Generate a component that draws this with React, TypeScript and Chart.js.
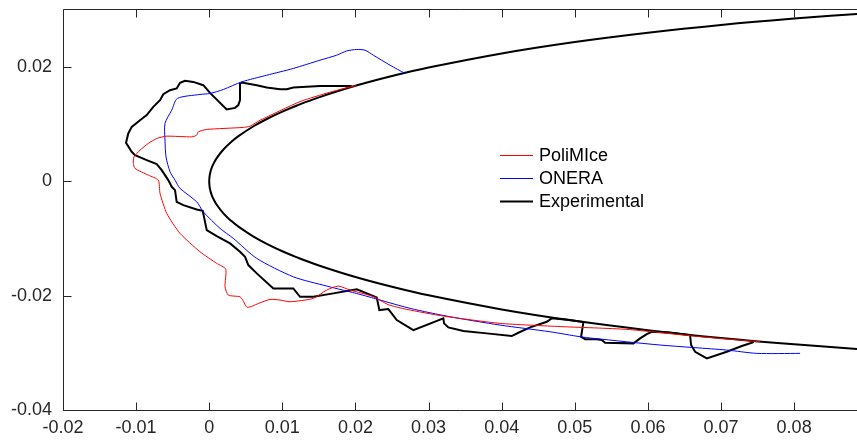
import React, { useEffect, useRef } from "react";
import { Chart, registerables } from "chart.js";

Chart.register(...registerables);

// Axis ticks
const xTicks = [-0.02, -0.01, 0, 0.01, 0.02, 0.03, 0.04, 0.05, 0.06, 0.07, 0.08];
const yTicks = [-0.04, -0.02, 0, 0.02];

// NACA 0012 section (chord 0.5334 m) near the leading edge: stations and half thickness
const airfoilStations = [
  0, 0.00005, 0.0001, 0.0002, 0.0003, 0.0005, 0.001, 0.002, 0.003, 0.004, 0.006, 0.008,
  0.01, 0.012, 0.015, 0.02, 0.025, 0.03, 0.04, 0.05, 0.06, 0.07, 0.08, 0.09,
];
const airfoilHalfThickness = [
  0, 0.00092, 0.00129, 0.00183, 0.00223, 0.00287, 0.00404, 0.00567, 0.0069, 0.00792, 0.00961,
  0.01101, 0.01222, 0.01329, 0.01471, 0.01673, 0.01844, 0.01993, 0.0224, 0.0244, 0.02603,
  0.02739, 0.02851, 0.02944,
];

// Ice shapes, traced from upper surface around the leading edge to the lower surface
const poliMIceX = [
  0.0201, 0.01653, 0.01242, 0.00695, 0.00558, 0.00466, -0.00034, -0.00149, -0.00171, -0.00239,
  -0.00581, -0.00718, -0.00833, -0.00947, -0.01029, -0.01038, -0.01015, -0.00833, -0.00696,
  -0.00673, -0.00581, -0.00399, -0.00126, 0.00103, 0.00226, 0.00216, 0.00261, 0.00421, 0.00458,
  0.00521, 0.00695, 0.00832, 0.00969, 0.01105, 0.01424, 0.01607, 0.01766, 0.01926, 0.02245,
  0.02446, 0.02702, 0.03202, 0.03978, 0.04799, 0.05711, 0.06622, 0.07535,
];
const poliMIceY = [
  0.0168, 0.01562, 0.01396, 0.0107, 0.00967, 0.00945, 0.0091, 0.00868, 0.0081, 0.0078, 0.00792,
  0.00752, 0.00665, 0.00547, 0.0043, 0.00315, 0.00227, 0.0011, 0.00023, -0.0021, -0.0056,
  -0.0091, -0.01231, -0.01434, -0.01534, -0.01844, -0.01989, -0.02019, -0.02076, -0.02204,
  -0.02124, -0.02064, -0.02076, -0.02106, -0.02047, -0.01901, -0.01831, -0.01901, -0.02015,
  -0.02155, -0.02239, -0.02356, -0.02484, -0.0254, -0.02589, -0.02706, -0.02806,
];

const oneraX = [
  0.0268, 0.02473, 0.02245, 0.02131, 0.02018, 0.01881, 0.01744, 0.01516, 0.0115, 0.00787,
  0.00445, 0.00193, 0.00011, -0.00126, -0.00436, -0.00513, -0.00605, -0.00605, -0.00591,
  -0.00536, -0.00468, -0.00399, -0.00171, -0.00081, 0.00148, 0.0033, 0.0065, 0.0115, 0.01607,
  0.02063, 0.02747, 0.03294, 0.03978, 0.04662, 0.05073, 0.05254, 0.06167, 0.07079, 0.0749,
  0.08082,
];
const oneraY = [
  0.0189, 0.02034, 0.02209, 0.02297, 0.02309, 0.02284, 0.02209, 0.02122, 0.01977, 0.01859,
  0.01742, 0.01609, 0.01539, 0.01522, 0.01452, 0.01247, 0.01015, 0.00722, 0.0043, 0.00168,
  0.00023, -0.00122, -0.00357, -0.00532, -0.00822, -0.00997, -0.01347, -0.01669, -0.01831,
  -0.01977, -0.02221, -0.02368, -0.02514, -0.02631, -0.02718, -0.02746, -0.02863, -0.02951,
  -0.03009, -0.03009,
];

const experimentalX = [
  0.01949, 0.01516, 0.0115, 0.0106, 0.00969, 0.00787, 0.0065, 0.00445, 0.00421, 0.00421,
  0.00398, 0.00353, 0.00239, 0.00011, -0.00081, -0.00218, -0.00331, -0.00399, -0.00445,
  -0.00536, -0.00628, -0.00673, -0.00765, -0.00855, -0.00947, -0.0106, -0.01107, -0.01138,
  -0.0106, -0.01015, -0.00855, -0.00718, -0.0065, -0.0056, -0.00513, -0.00468, -0.00445,
  -0.00354, -0.00171, -0.00089, -0.00034, 0.00103, 0.00285, 0.00421, 0.0049, 0.00535, 0.0065,
  0.00877, 0.0115, 0.01242, 0.01424, 0.01698, 0.01881, 0.02018, 0.02291, 0.02327, 0.0245,
  0.02565, 0.02792, 0.03202, 0.03212, 0.03271, 0.03476, 0.03796, 0.04138, 0.04228, 0.04389,
  0.04617, 0.04685, 0.049, 0.05118, 0.05086, 0.05141, 0.05301, 0.05369, 0.05415, 0.05802,
  0.05893, 0.05985, 0.06053, 0.063, 0.06577, 0.06591, 0.06646, 0.06806, 0.07079, 0.07285,
  0.07435, 0.0745,
];
const experimentalY = [
  0.01672, 0.01672, 0.01644, 0.01614, 0.01614, 0.01644, 0.01684, 0.01732, 0.01714, 0.01422,
  0.01335, 0.01287, 0.01259, 0.0155, 0.01684, 0.01742, 0.0176, 0.01725, 0.01627, 0.01597,
  0.01527, 0.01422, 0.01305, 0.0116, 0.01072, 0.00955, 0.0084, 0.00675, 0.00518, 0.0046,
  0.00373, 0.00303, 0.00198, 0.00023, -0.00094, -0.00152, -0.00357, -0.00415, -0.0049,
  -0.00514, -0.00852, -0.00957, -0.01084, -0.01231, -0.01319, -0.01464, -0.01609, -0.01872,
  -0.01872, -0.02019, -0.02019, -0.01959, -0.01919, -0.01889, -0.02029, -0.02251, -0.02234,
  -0.02426, -0.02601, -0.02396, -0.02484, -0.02554, -0.02618, -0.02659, -0.02706, -0.02648,
  -0.02554, -0.02456, -0.02396, -0.0242, -0.02461, -0.02718, -0.02764, -0.02764, -0.02776,
  -0.02823, -0.02834, -0.02746, -0.02671, -0.02631, -0.02644, -0.02688, -0.02863, -0.02981,
  -0.03096, -0.02981, -0.02881, -0.02816, -0.0279,
];

const seriesNames = ["PoliMIce", "ONERA", "Experimental"];
const seriesColors = ["#ff0000", "#0000ff", "#000000"];
const seriesWidths = [1, 1, 2];
const seriesTension = [0.2, 0.25, 0];

const axisColor = "#262626";
const fontFamily = '"Liberation Sans", Arial, Helvetica, sans-serif';
const fontSize = 18;

const pairs = (xs: number[], ys: number[]) => xs.map((x, i) => ({ x, y: ys[i] }));

const fmt = (v: number) => String(+(+v).toFixed(2));

// Box lines on the left, bottom and top with inward tick marks
const framePlugin = {
  id: "frame",
  afterDatasetsDraw(chart: any) {
    const { ctx, chartArea } = chart;
    const xs = chart.scales.x;
    const ys = chart.scales.y;
    const L = Math.round(chartArea.left) + 0.5;
    const B = Math.round(chartArea.bottom) + 0.5;
    const T = Math.round(chartArea.top) - 0.5;
    const R = chartArea.right;
    const tick = 8;
    ctx.save();
    ctx.strokeStyle = axisColor;
    ctx.lineWidth = 1;
    ctx.beginPath();
    ctx.moveTo(R, T);
    ctx.lineTo(L, T);
    ctx.lineTo(L, B);
    ctx.lineTo(R, B);
    for (const v of xTicks) {
      const px = Math.round(xs.getPixelForValue(v)) + 0.5;
      ctx.moveTo(px, B);
      ctx.lineTo(px, B - tick);
      ctx.moveTo(px, T);
      ctx.lineTo(px, T + tick);
    }
    for (const v of yTicks) {
      const py = Math.round(ys.getPixelForValue(v)) + 0.5;
      ctx.moveTo(L, py);
      ctx.lineTo(L + tick, py);
    }
    ctx.stroke();
    ctx.restore();
  },
};

// Legend inside the plot, without a box
const legendPlugin = {
  id: "innerLegend",
  afterDraw(chart: any) {
    const { ctx } = chart;
    const x0 = 500;
    const y0 = 155;
    const rowGap = 23;
    ctx.save();
    ctx.font = `${fontSize}px ${fontFamily}`;
    ctx.textBaseline = "middle";
    ctx.textAlign = "left";
    chart.data.datasets.forEach((ds: any, i: number) => {
      if (!ds.label) return;
      const y = y0 + i * rowGap;
      ctx.strokeStyle = ds.borderColor;
      ctx.lineWidth = ds.borderWidth;
      ctx.beginPath();
      ctx.moveTo(x0, y + 0.5);
      ctx.lineTo(x0 + 33, y + 0.5);
      ctx.stroke();
      ctx.fillStyle = "#000000";
      ctx.fillText(ds.label, x0 + 39, y + 1);
    });
    ctx.restore();
  },
};

export default function App() {
  const canvasRef = useRef<HTMLCanvasElement | null>(null);

  useEffect(() => {
    const canvas = canvasRef.current;
    if (!canvas) return;

    const upper = airfoilStations
      .map((x, i) => ({ x, y: airfoilHalfThickness[i] }))
      .reverse();
    const lower = airfoilStations.slice(1).map((x, i) => ({ x, y: -airfoilHalfThickness[i + 1] }));
    const airfoil = [...upper, ...lower];

    const iceData = [
      pairs(poliMIceX, poliMIceY),
      pairs(oneraX, oneraY),
      pairs(experimentalX, experimentalY),
    ];

    const datasets: any[] = iceData.map((data, i) => ({
      label: seriesNames[i],
      data,
      showLine: true,
      borderColor: seriesColors[i],
      backgroundColor: seriesColors[i],
      borderWidth: seriesWidths[i],
      pointRadius: 0,
      tension: seriesTension[i],
      fill: false,
    }));
    datasets.push({
      label: "",
      data: airfoil,
      showLine: true,
      borderColor: "#000000",
      borderWidth: 2,
      pointRadius: 0,
      tension: 0.4,
      fill: false,
    });

    const tickFont = { family: fontFamily, size: fontSize };

    const chart = new Chart(canvas, {
      type: "scatter",
      data: { datasets },
      options: {
        animation: false,
        responsive: false,
        events: [],
        layout: { padding: { top: 10, right: 0, left: 0, bottom: 0 } },
        plugins: {
          legend: { display: false },
          tooltip: { enabled: false },
        },
        scales: {
          x: {
            type: "linear",
            min: -0.02,
            max: 0.0886,
            grid: { display: false, drawTicks: false },
            border: { display: false },
            afterBuildTicks: (s: any) => {
              s.ticks = xTicks.map((value) => ({ value }));
            },
            afterFit: (s: any) => {
              s.height = 34;
              s.paddingLeft = 0;
              s.paddingRight = 0;
            },
            ticks: {
              callback: (v: any) => fmt(v),
              color: axisColor,
              font: tickFont,
              padding: 7,
              maxRotation: 0,
              autoSkip: false,
            },
          },
          y: {
            type: "linear",
            min: -0.04,
            max: 0.03,
            grid: { display: false, drawTicks: false },
            border: { display: false },
            afterBuildTicks: (s: any) => {
              s.ticks = yTicks.map((value) => ({ value }));
            },
            afterFit: (s: any) => {
              s.width = 63;
              s.paddingTop = 0;
              s.paddingBottom = 0;
            },
            ticks: {
              callback: (v: any) => fmt(v),
              color: axisColor,
              font: tickFont,
              padding: 11,
              autoSkip: false,
            },
          },
        },
      },
      plugins: [framePlugin, legendPlugin],
    });

    return () => chart.destroy();
  }, []);

  return (
    <div style={{ position: "absolute", left: 0, top: 0, width: 857, height: 444, background: "#fff" }}>
      <canvas ref={canvasRef} width={857} height={444} style={{ display: "block" }} />
    </div>
  );
}
